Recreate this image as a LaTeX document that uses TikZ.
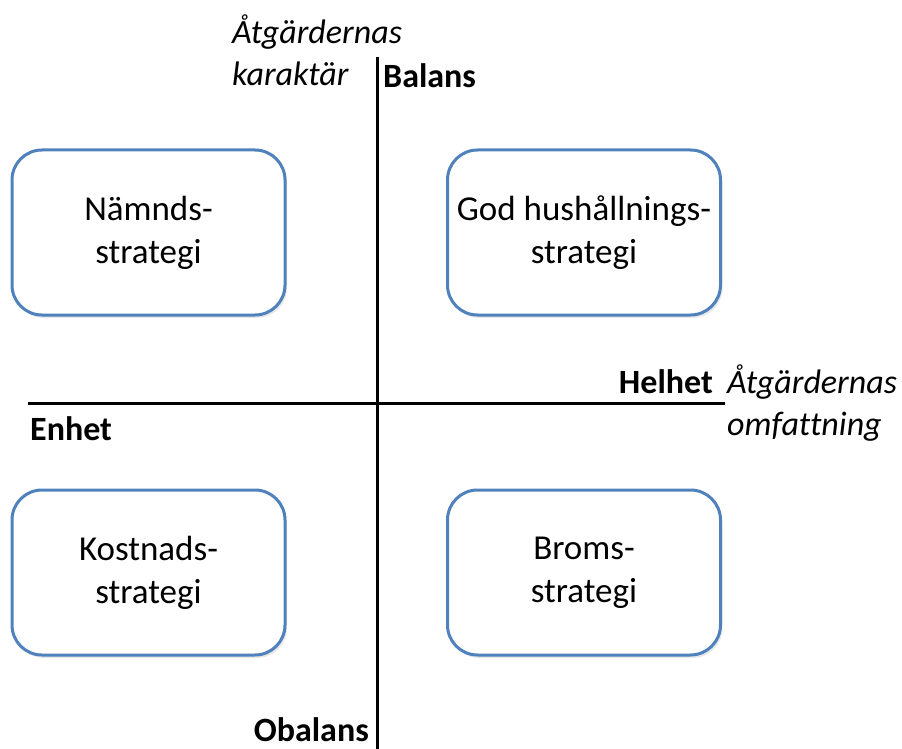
\documentclass[tikz,border=0pt]{standalone}
\usepackage{fontspec}
\setmainfont[Ligatures={NoCommon}]{Carlito}
\usetikzlibrary{shadows}
\definecolor{boxblue}{HTML}{4F81BD}
\begin{document}
\begin{tikzpicture}[x=1pt,y=-1pt,
  strat/.style={draw=boxblue, line width=3pt, rounded corners=30pt, fill=white,
    minimum width=273pt, minimum height=165pt, align=center, inner sep=0pt,
    font=\fontsize{35}{43}\selectfont,
    drop shadow={opacity=0.18, shadow xshift=2pt, shadow yshift=-3pt}},
  axis/.style={line width=3pt, black},
  lab/.style={font=\fontsize{34}{42}\selectfont\bfseries, inner sep=0pt},
  ital/.style={font=\fontsize{34}{42}\selectfont\itshape, inner sep=0pt, align=left}]
\useasboundingbox (0,0) rectangle (902,749);
\fill[white] (0,0) rectangle (902,749);
% axes
\coordinate (vtop) at (377,57);
\coordinate (vbot) at (377,749);
\coordinate (hl) at (28,403);
\coordinate (hr) at (725,403);
\draw[axis] (vtop) -- (vbot);
\draw[axis] (hl) -- (hr);
% boxes
\node[strat] (nam) at (148.5,232.5) {Nämnds-\\strategi};
\node[strat] (god) at (584,232.5) {God hushållnings-\\strategi};
\node[strat] (kos) at (148.5,572.5) {Kostnads-\\strategi};
\node[strat] (bro) at (584,572.5) {Broms-\\strategi};
% labels
\node[ital, anchor=base west] (kar1) at (232,44) {Åtgärdernas};
\node[ital, anchor=base west] (kar2) at (232,86) {karaktär};
\node[lab, anchor=base west] (bal) at (383,88) {Balans};
\node[lab, anchor=base east] (hel) at (713,393) {Helhet};
\node[ital, anchor=base west] (omf1) at (727,393) {Åtgärdernas};
\node[ital, anchor=base west] (omf2) at (727,435) {omfattning};
\node[lab, anchor=base west] (enh) at (30,440) {Enhet};
\node[lab, anchor=base east] (oba) at (369,741) {Obalans};
\end{tikzpicture}
\end{document}
